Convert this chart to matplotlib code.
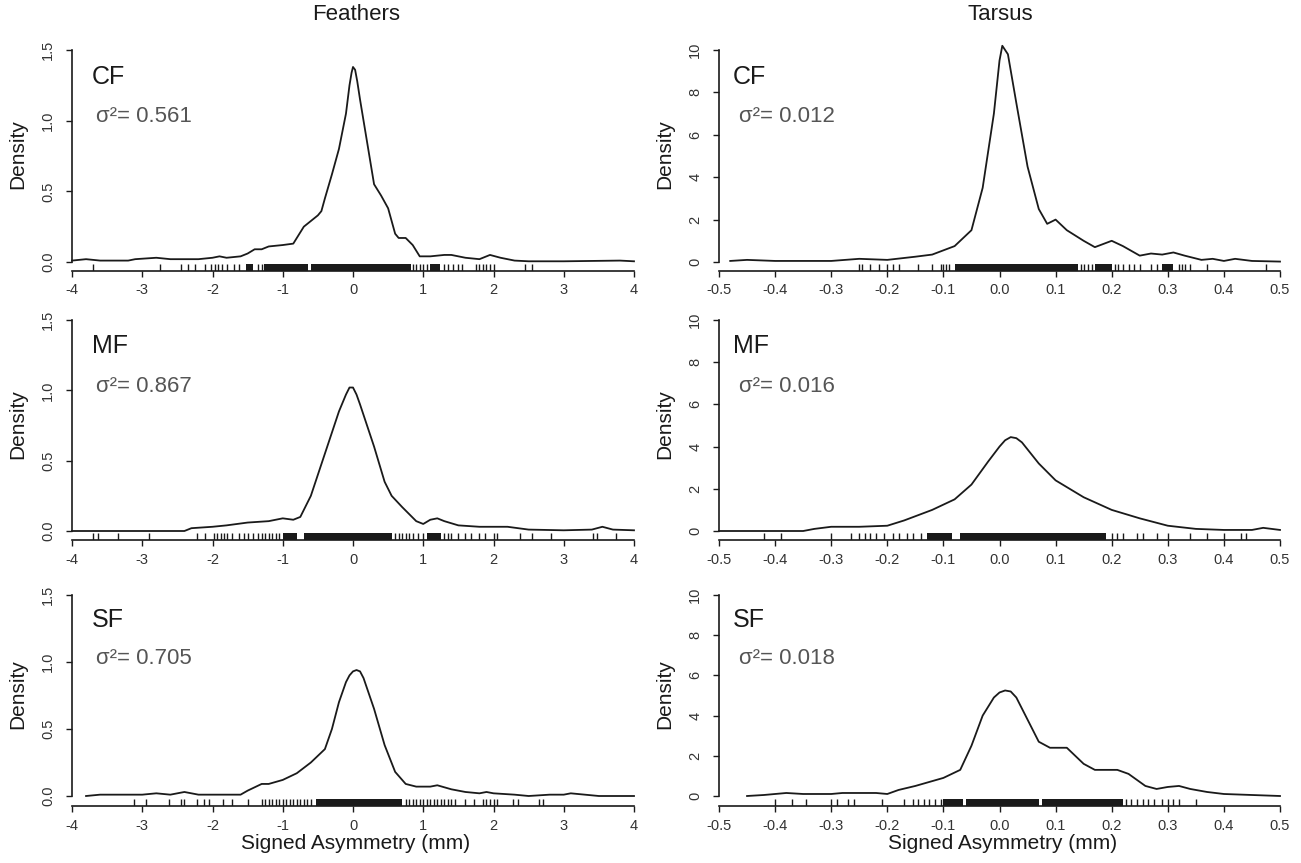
import numpy as np
import matplotlib.pyplot as plt

plt.rcParams['font.family'] = ['Liberation Sans', 'DejaVu Sans']
plt.rcParams['axes.unicode_minus'] = False

W, H = 1301, 863

# --- Feathers (left column) ---
cf_f_x = [-4.0, -3.8, -3.6, -3.2, -3.1, -2.8, -2.6, -2.2, -2.0, -1.9, -1.8, -1.6, -1.5, -1.4,
          -1.3, -1.2, -1.0, -0.85, -0.8, -0.7, -0.5, -0.45, -0.4, -0.3, -0.2, -0.1, -0.05,
          -0.02, 0.0, 0.03, 0.06, 0.1, 0.2, 0.3, 0.4, 0.5, 0.6, 0.65, 0.75, 0.85, 0.95, 1.1,
          1.3, 1.4, 1.6, 1.8, 1.95, 2.1, 2.3, 2.5, 3.0, 3.8, 4.0]
cf_f_y = [0.01, 0.02, 0.01, 0.01, 0.02, 0.03, 0.02, 0.02, 0.03, 0.04, 0.03, 0.04, 0.06, 0.09,
          0.09, 0.11, 0.12, 0.13, 0.17, 0.25, 0.33, 0.36, 0.45, 0.62, 0.80, 1.05, 1.25,
          1.34, 1.38, 1.36, 1.28, 1.15, 0.85, 0.55, 0.47, 0.38, 0.20, 0.17, 0.17, 0.12, 0.04,
          0.04, 0.05, 0.05, 0.03, 0.02, 0.05, 0.03, 0.01, 0.005, 0.005, 0.01, 0.005]
cf_f_rug = [-3.7, -2.75, -2.45, -2.35, -2.25, -2.1, -2.02, -1.97, -1.92, -1.87, -1.8, -1.7,
            -1.62, -1.35, -1.3, 0.86, 0.9, 0.95, 1.0, 1.05, 1.3, 1.35, 1.42, 1.5, 1.55, 1.75,
            1.8, 1.85, 1.9, 1.95, 2.0, 2.45, 2.55]
cf_f_bands = [(-1.52, -1.42), (-1.27, -0.64), (-0.6, 0.82), (1.1, 1.24)]

mf_f_x = [-4.0, -2.4, -2.3, -2.0, -1.8, -1.5, -1.2, -1.0, -0.85, -0.75, -0.6, -0.4, -0.2,
          -0.1, -0.05, 0.0, 0.05, 0.1, 0.3, 0.45, 0.55, 0.7, 0.9, 1.0, 1.1, 1.2, 1.3, 1.5,
          1.8, 2.2, 2.5, 3.0, 3.4, 3.55, 3.7, 4.0]
mf_f_y = [0.0, 0.0, 0.02, 0.03, 0.04, 0.06, 0.07, 0.09, 0.08, 0.10, 0.25, 0.55, 0.85,
          0.97, 1.02, 1.02, 0.97, 0.90, 0.60, 0.35, 0.25, 0.17, 0.07, 0.05, 0.08, 0.09, 0.07,
          0.04, 0.03, 0.03, 0.01, 0.005, 0.01, 0.03, 0.01, 0.005]
mf_f_rug = [-3.7, -3.63, -3.35, -2.9, -2.22, -2.1, -1.98, -1.93, -1.88, -1.84, -1.8, -1.72,
            -1.62, -1.55, -1.5, -1.42, -1.35, -1.3, -1.25, -1.2, -1.15, -1.1, -1.05, 0.6,
            0.65, 0.7, 0.75, 0.8, 0.85, 0.92, 1.0, 1.3, 1.35, 1.4, 1.5, 1.6, 1.68, 1.8, 1.88,
            2.0, 2.05, 2.38, 2.55, 2.82, 3.42, 3.48, 3.75]
mf_f_bands = [(-1.0, -0.8), (-0.7, 0.55), (1.05, 1.25)]

sf_f_x = [-3.8, -3.6, -3.0, -2.8, -2.6, -2.4, -2.2, -1.6, -1.5, -1.3, -1.2, -1.0, -0.8,
          -0.6, -0.4, -0.3, -0.2, -0.1, -0.05, 0.0, 0.05, 0.1, 0.15, 0.3, 0.45, 0.6, 0.75,
          0.9, 1.1, 1.2, 1.4, 1.6, 1.8, 1.9, 2.0, 2.3, 2.5, 2.8, 3.0, 3.1, 3.3, 3.5, 4.0]
sf_f_y = [0.0, 0.01, 0.01, 0.02, 0.01, 0.03, 0.01, 0.01, 0.04, 0.09, 0.09, 0.12, 0.17,
          0.25, 0.35, 0.50, 0.70, 0.85, 0.90, 0.93, 0.94, 0.93, 0.88, 0.65, 0.38, 0.18, 0.09,
          0.07, 0.07, 0.08, 0.05, 0.03, 0.02, 0.03, 0.02, 0.01, 0.0, 0.01, 0.01, 0.02, 0.01,
          0.0, 0.0]
sf_f_rug = [-3.12, -2.95, -2.62, -2.45, -2.4, -2.22, -2.12, -2.05, -1.85, -1.72, -1.5, -1.3,
            -1.25, -1.2, -1.15, -1.1, -1.05, -1.0, -0.95, -0.9, -0.85, -0.8, -0.75, -0.7,
            -0.65, -0.6, 0.75, 0.8, 0.85, 0.9, 0.95, 1.0, 1.05, 1.1, 1.15, 1.2, 1.25, 1.3,
            1.35, 1.4, 1.45, 1.6, 1.72, 1.85, 1.9, 1.95, 2.0, 2.05, 2.28, 2.35, 2.65, 2.7]
sf_f_bands = [(-0.52, 0.7)]

# --- Tarsus (right column) ---
cf_t_x = [-0.48, -0.45, -0.4, -0.3, -0.25, -0.2, -0.15, -0.12, -0.1, -0.08, -0.05, -0.03,
          -0.01, 0.0, 0.005, 0.015, 0.03, 0.05, 0.07, 0.085, 0.1, 0.12, 0.15, 0.17, 0.19,
          0.2, 0.22, 0.25, 0.27, 0.29, 0.31, 0.33, 0.36, 0.38, 0.4, 0.42, 0.45, 0.5]
cf_t_y = [0.05, 0.1, 0.05, 0.05, 0.15, 0.1, 0.25, 0.35, 0.55, 0.75, 1.5, 3.5, 7.0, 9.5,
          10.2, 9.8, 7.5, 4.5, 2.5, 1.8, 2.0, 1.5, 1.0, 0.7, 0.9, 1.0, 0.75, 0.3, 0.4, 0.35,
          0.45, 0.3, 0.1, 0.15, 0.05, 0.15, 0.05, 0.02]
cf_t_rug = [-0.25, -0.245, -0.23, -0.215, -0.2, -0.19, -0.18, -0.145, -0.12, -0.105, -0.1,
            -0.095, -0.09, 0.145, 0.15, 0.157, 0.165, 0.205, 0.212, 0.22, 0.23, 0.24, 0.25,
            0.27, 0.28, 0.32, 0.325, 0.33, 0.34, 0.37, 0.475]
cf_t_bands = [(-0.08, 0.14), (0.17, 0.2), (0.29, 0.31)]

mf_t_x = [-0.5, -0.35, -0.33, -0.3, -0.25, -0.2, -0.17, -0.12, -0.08, -0.05, -0.02, 0.0,
          0.01, 0.02, 0.03, 0.04, 0.07, 0.1, 0.15, 0.2, 0.25, 0.3, 0.35, 0.4, 0.45, 0.47, 0.5]
mf_t_y = [0.0, 0.0, 0.1, 0.2, 0.2, 0.25, 0.5, 1.0, 1.5, 2.2, 3.3, 4.0, 4.3, 4.45, 4.4, 4.2,
          3.2, 2.4, 1.6, 1.0, 0.6, 0.25, 0.1, 0.05, 0.05, 0.15, 0.05]
mf_t_rug = [-0.42, -0.39, -0.3, -0.265, -0.25, -0.24, -0.23, -0.22, -0.205, -0.19, -0.18,
            -0.165, -0.155, -0.14, 0.2, 0.21, 0.22, 0.245, 0.255, 0.28, 0.3, 0.34, 0.37, 0.4,
            0.43, 0.44]
mf_t_bands = [(-0.13, -0.085), (-0.07, 0.19)]

sf_t_x = [-0.45, -0.42, -0.38, -0.35, -0.3, -0.28, -0.22, -0.2, -0.18, -0.15, -0.1, -0.07,
          -0.05, -0.03, -0.01, 0.0, 0.01, 0.02, 0.03, 0.05, 0.07, 0.09, 0.12, 0.15, 0.17,
          0.21, 0.23, 0.26, 0.28, 0.3, 0.32, 0.34, 0.37, 0.4, 0.45, 0.5]
sf_t_y = [0.0, 0.05, 0.15, 0.1, 0.1, 0.15, 0.15, 0.1, 0.3, 0.5, 0.9, 1.3, 2.5, 4.0, 4.9,
          5.15, 5.25, 5.2, 4.9, 3.8, 2.7, 2.4, 2.4, 1.6, 1.3, 1.3, 1.1, 0.5, 0.35, 0.45, 0.5,
          0.35, 0.2, 0.1, 0.05, 0.0]
sf_t_rug = [-0.4, -0.37, -0.345, -0.3, -0.29, -0.27, -0.26, -0.21, -0.17, -0.155, -0.145,
            -0.135, -0.125, -0.115, -0.105, 0.225, 0.235, 0.245, 0.255, 0.265, 0.275, 0.29,
            0.3, 0.31, 0.32, 0.35]
sf_t_bands = [(-0.1, -0.065), (-0.06, 0.07), (0.075, 0.22)]

groups = ['CF', 'MF', 'SF']
var_feathers = ['0.561', '0.867', '0.705']
var_tarsus = ['0.012', '0.016', '0.018']

feather_ticks = [-4, -3, -2, -1, 0, 1, 2, 3, 4]
feather_yticks = [0.0, 0.5, 1.0, 1.5]
tarsus_ticks = [-0.5, -0.4, -0.3, -0.2, -0.1, 0.0, 0.1, 0.2, 0.3, 0.4, 0.5]
tarsus_yticks = [0, 2, 4, 6, 8, 10]

INK = '#1a1a1a'


def make_panel(fig, xpa, xpb, ypz, ypm, ypaxis, xticks, yticks):
    # pixel layout -> axes in figure fraction
    xa, xb = xticks[0], xticks[-1]
    ymax = yticks[-1]
    sx = (xpb - xpa) / (xb - xa)
    sy = (ypz - ypm) / ymax
    top_px = ypm - 0.06 * ymax * sy
    right_px = xpb + 6
    ax = fig.add_axes([xpa / W, 1 - ypaxis / H, (right_px - xpa) / W, (ypaxis - top_px) / H])
    ax.set_xlim(xa, xb + 6 / sx)
    ax.set_ylim(-(ypaxis - ypz) / sy, ymax * 1.06)
    for s in ['top', 'right']:
        ax.spines[s].set_visible(False)
    ax.spines['left'].set_bounds(0, ymax)
    ax.spines['bottom'].set_bounds(xa, xb)
    for s in ['left', 'bottom']:
        ax.spines[s].set_linewidth(1.2)
        ax.spines[s].set_color(INK)
    ax.set_xticks(xticks)
    ax.set_yticks(yticks)
    ax.tick_params(axis='both', direction='out', length=4, width=1.0, color=INK,
                   labelsize=10.5, labelcolor='#333333')
    ax.tick_params(axis='x', pad=5)
    ax.tick_params(axis='y', pad=8)
    for lab in ax.get_yticklabels():
        lab.set_rotation(90)
        lab.set_va('center')
    ax.yaxis.set_label_coords(-45 / (right_px - xpa), 0.5)
    return ax


def draw(ax, x, y, rug, bands, name, var, text_x, ymax, label_off):
    ax.plot(x, y, color=INK, lw=1.3, clip_on=False)
    trans = ax.get_xaxis_transform()
    ax.vlines(rug, 0, 0.03, transform=trans, color=INK, lw=1.0)
    for a, b in bands:
        ax.axvspan(a, b, ymin=0, ymax=0.03, color=INK, lw=0)
    ax.text(text_x, ymax * 0.875, name, fontsize=18, color=INK, ha='left', va='center')
    ax.text(text_x + label_off, ymax * 0.685, '\u03c3\u00b2= ' + var, fontsize=16,
            color='#555555', ha='left', va='center')
    ax.set_ylabel('Density', fontsize=15, color=INK)


def main():
    fig = plt.figure(figsize=(W / 100, H / 100), dpi=100)

    feathers = [(cf_f_x, cf_f_y, cf_f_rug, cf_f_bands),
                (mf_f_x, mf_f_y, mf_f_rug, mf_f_bands),
                (sf_f_x, sf_f_y, sf_f_rug, sf_f_bands)]
    tarsus = [(cf_t_x, cf_t_y, cf_t_rug, cf_t_bands),
              (mf_t_x, mf_t_y, mf_t_rug, mf_t_bands),
              (sf_t_x, sf_t_y, sf_t_rug, sf_t_bands)]

    # rows: pixel of y=0, of y=max tick, of the x axis line
    rows = [(262, 50, 271), (531, 320, 540), (796, 595, 806)]

    for i, (ypz, ypm, ypaxis) in enumerate(rows):
        axl = make_panel(fig, 72, 634, ypz, ypm, ypaxis, feather_ticks, feather_yticks)
        x, y, rug, bands = feathers[i]
        draw(axl, x, y, rug, bands, groups[i], var_feathers[i], -3.72, 1.5, 0.06)

        axr = make_panel(fig, 719, 1280, ypz, ypm, ypaxis, tarsus_ticks, tarsus_yticks)
        x, y, rug, bands = tarsus[i]
        draw(axr, x, y, rug, bands, groups[i], var_tarsus[i], -0.475, 10, 0.01)

        if i == 2:
            axl.set_xlabel('Signed Asymmetry (mm)', fontsize=15, color=INK, labelpad=1)
            axr.set_xlabel('Signed Asymmetry (mm)', fontsize=15, color=INK, labelpad=1)

    fig.text(356 / W, 1 - 15 / H, 'Feathers', fontsize=16, color=INK, ha='center', va='center')
    fig.text(1000 / W, 1 - 15 / H, 'Tarsus', fontsize=16, color=INK, ha='center', va='center')

    plt.savefig('out.png', dpi=100)


if __name__ == "__main__":
    main()
